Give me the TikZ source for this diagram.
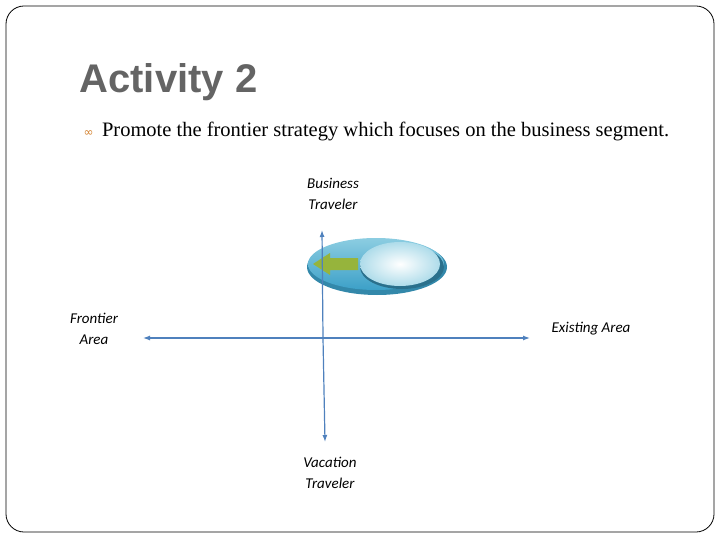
\documentclass[tikz,border=0pt]{standalone}
\usepackage{fontspec}
\setmainfont{Liberation Serif}
\newfontfamily\lab{Carlito}
\newfontfamily\ttl{Liberation Sans}
\newfontfamily\djfont{DejaVu Sans}
\definecolor{axis}{RGB}{79,129,189}
\definecolor{ttlgray}{RGB}{100,100,100}
\definecolor{ring}{RGB}{60,160,200}
\definecolor{ringtop}{RGB}{140,205,225}
\definecolor{arrowgreen}{RGB}{150,180,60}
\tikzset{lbl/.style={font=\lab\itshape\fontsize{15}{21}\selectfont,align=center,text=black},
ax/.style={draw=axis,line width=1.2pt,-{Latex[length=7pt,width=5pt]}}}
\usetikzlibrary{arrows.meta}
\begin{document}
\begin{tikzpicture}[x=1pt,y=-1pt]
\useasboundingbox (0,0) rectangle (720,540);
\draw[rounded corners=18pt,line width=0.8pt] (6,6) rectangle (714,532);
\node[anchor=west,font=\ttl\bfseries\fontsize{40}{42}\selectfont,text=ttlgray] (t) at (76,82) {Activity 2};
\node[anchor=west,font=\fontsize{20.5}{24}\selectfont] (b) at (80,131) {{\djfont\color{brown!70!orange}\fontsize{12}{12}\selectfont ∞}\, Promote the frontier strategy which focuses on the business segment.};
% ellipses
\fill[ring!85!black] (377,267) ellipse (70 and 28);
\shade[top color=ringtop,bottom color=ring] (376,264) ellipse (68 and 26);
\fill[ring!70!black] (402,267) ellipse (42 and 22);
\shade[inner color=white,outer color=ringtop!70!white] (400,264) ellipse (40 and 22);
\fill[arrowgreen] (358,258) -- (330,258) -- (330,253) -- (313,264) -- (330,275) -- (330,270) -- (358,270) -- cycle;
\coordinate (c) at (323,338);
\coordinate (up) at (322,230);
\coordinate (dn) at (325,442);
\coordinate (l) at (143,338);
\coordinate (r) at (530,338);
\draw[ax] (c) -- (up);
\draw[ax] (c) -- (dn);
\draw[ax] (c) -- (l);
\draw[ax] (c) -- (r);
\node[lbl] (bt) at (333,194) {Business\\Traveler};
\node[lbl] (vt) at (330,473) {Vacation\\Traveler};
\node[lbl] (fa) at (94,329) {Frontier\\Area};
\node[lbl] (ea) at (591,329) {Existing Area};
\end{tikzpicture}
\end{document}
